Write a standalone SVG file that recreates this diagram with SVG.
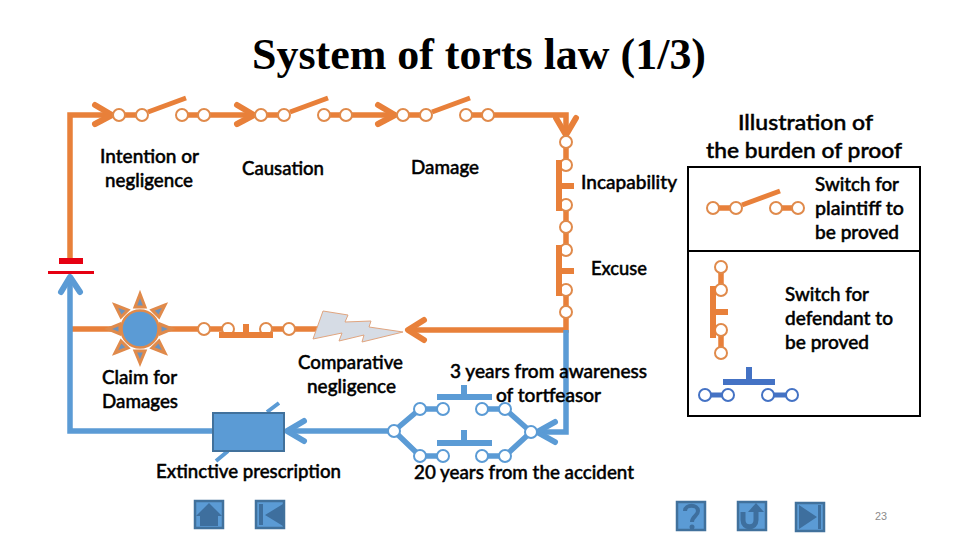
<svg xmlns="http://www.w3.org/2000/svg" width="960" height="540" viewBox="0 0 960 540">
<style>
text{font-family:Lato,"Liberation Sans",Arial,sans-serif;font-size:18.5px;font-weight:500;fill:#000;stroke:#000;stroke-width:.45}
.title{font-family:"Liberation Serif","Times New Roman",serif;font-size:44px;font-weight:bold;stroke:none}
.o{stroke:#E8803A;stroke-width:5.5;fill:none}
.b{stroke:#5B9BD5;stroke-width:5.5;fill:none}
.d{stroke:#4472C4;stroke-width:5;fill:none}
.ah{stroke-width:6;stroke-linecap:round;stroke-linejoin:round}
.oc{fill:#fff;stroke:#E08A4B;stroke-width:2}
.bc{fill:#fff;stroke:#5B9BD5;stroke-width:2}
.dc{fill:#fff;stroke:#4472C4;stroke-width:2}
.of{fill:#E8803A}
.bf{fill:#5B9BD5}
.df{fill:#4472C4}
.ray{fill:#6C93BE;stroke:#E08A4B;stroke-width:3;stroke-linejoin:miter}
.btn{fill:#5B9BD5;stroke:#41719C;stroke-width:2.5}
.ic{fill:#3E6F9E}
</style>
<defs>
<circle id="oc" r="6" class="oc"/>
<circle id="bc" r="6" class="bc"/>
<circle id="dc" r="6" class="dc"/>
<g id="sw">
<path class="o" d="M0 0H23M63 0H85"/>
<path class="o" d="M29-3L67-17" style="stroke-width:5"/>
<use href="#oc"/><use href="#oc" x="23"/><use href="#oc" x="63"/><use href="#oc" x="85"/>
</g>
</defs>
<text class="title" x="252" y="69" textLength="454" lengthAdjust="spacingAndGlyphs">System of torts law (1/3)</text>
<g id="connectors">
<path class="o" d="M70 258V115H112M204 115H254M346 115H395M488 115H566V135"/>
<path class="o ah" d="M95 105L112 115L95 124M237 105L254 115L237 124M378 105L395 115L378 124M556 118L566 135L576 118"/>
<path class="o" d="M566 135V165M566 205V250M566 290V330H410"/>
<path class="o ah" d="M424 320L408 330L424 340"/>
<path class="o" d="M72 329H228M266 329H320"/>
<path class="b" d="M566 330V432H536"/>
<path class="b ah" d="M555 422L537 432L555 442"/>
<path class="b" d="M70 278V431H214"/>
<path class="b ah" d="M61 292L70 277L80 292"/>
<path class="b" d="M394 431H287"/>
<path class="b ah" d="M304 421L287 431L304 441"/>
<path class="b" d="M394 431L420 409H443M482 409H505L531 432L505 456H482M443 456H420L394 431"/>
</g>
<g id="battery"><rect x="59" y="258" width="24" height="6" fill="#E60012"/><rect x="48" y="271" width="46" height="3" fill="#E60012"/></g>
<g id="switch-intention"><use href="#sw" x="119" y="115"/></g>
<g id="switch-causation"><use href="#sw" x="261" y="115"/></g>
<g id="switch-damage"><use href="#sw" x="403" y="115"/></g>
<g id="switch-incapability">
<use href="#oc" x="566" y="142"/><use href="#oc" x="566" y="165"/><use href="#oc" x="566" y="205"/><use href="#oc" x="566" y="227"/>
<path class="of" d="M556 160h6v51h-6zM562 183h12v6h-12z"/></g>
<g id="switch-excuse">
<use href="#oc" x="566" y="250"/><use href="#oc" x="566" y="290"/><use href="#oc" x="566" y="312"/>
<path class="of" d="M556 245h6v51h-6zM562 268h12v6h-12z"/></g>
<g id="switch-comparative">
<use href="#oc" x="204" y="329"/><use href="#oc" x="228" y="329"/><use href="#oc" x="266" y="329"/><use href="#oc" x="289" y="329"/>
<path class="of" d="M219 332h54v6h-54zM243 324h6v8h-6z"/></g>
<g id="lightning"><polygon points="323,311 348,315 345,322 371,321 369,327 403,332 362,342 364,335 339,341 342,333 313,339" fill="#D6DCE5" stroke="#E0A580" stroke-width="1"/></g>
<g id="sun">
<circle cx="140" cy="329" r="18.5" fill="#5B9BD5" stroke="#E08A4B" stroke-width="2.5"/>
<g class="ray">
<polygon points="140,294 135,307 145,307"/>
<polygon points="140,363 135,351 145,351"/>
<polygon points="108,329 120,324 120,334"/>
<polygon points="172,329 160,324 160,334"/>
<polygon points="165,305 152,310 159,317"/>
<polygon points="115,305 128,310 121,317"/>
<polygon points="165,353 152,348 159,341"/>
<polygon points="115,353 128,348 121,341"/>
</g></g>
<g id="prescription">
<path class="b" d="M216 461L228 451M267 412L279 403" style="stroke-width:4"/>
<rect x="213" y="413" width="71" height="38" fill="#5B9BD5" stroke="#41719C" stroke-width="2"/></g>
<g id="switch-3years">
<use href="#bc" x="394" y="431"/><use href="#bc" x="420" y="409"/><use href="#bc" x="443" y="409"/><use href="#bc" x="482" y="409"/><use href="#bc" x="505" y="409"/><use href="#bc" x="531" y="432"/>
<path class="bf" d="M437 394h55v6h-55zM461 385h6v9h-6z"/></g>
<g id="switch-20years">
<use href="#bc" x="420" y="456"/><use href="#bc" x="443" y="456"/><use href="#bc" x="482" y="456"/><use href="#bc" x="505" y="456"/>
<path class="bf" d="M437 440h55v6h-55zM461 430h6v10h-6z"/></g>
<g id="legend">
<rect x="688" y="167" width="232" height="249" fill="none" stroke="#000" stroke-width="2"/>
<path d="M688 251H920" stroke="#000" stroke-width="2"/>
<use href="#sw" x="713" y="208"/>
<path class="o" d="M721 267V290M721 330V353"/>
<use href="#oc" x="721" y="267"/><use href="#oc" x="721" y="290"/><use href="#oc" x="721" y="330"/><use href="#oc" x="721" y="353"/>
<path class="of" d="M710 286h6v52h-6zM716 309h12v6h-12z"/>
<path class="df" d="M723 379h52v6h-52zM746 367h6v12h-6z"/>
<path class="d" d="M705 395H728M768 395H792"/>
<use href="#dc" x="705" y="395"/><use href="#dc" x="728" y="395"/><use href="#dc" x="768" y="395"/><use href="#dc" x="792" y="395"/>
</g>
<g id="labels">
<text x="100" y="163" textLength="99" lengthAdjust="spacingAndGlyphs">Intention or</text>
<text x="105" y="187" textLength="88" lengthAdjust="spacingAndGlyphs">negligence</text>
<text x="242" y="175" textLength="82" lengthAdjust="spacingAndGlyphs">Causation</text>
<text x="411" y="174" textLength="68" lengthAdjust="spacingAndGlyphs">Damage</text>
<text x="581" y="189" textLength="96" lengthAdjust="spacingAndGlyphs">Incapability</text>
<text x="591" y="275" textLength="56" lengthAdjust="spacingAndGlyphs">Excuse</text>
<text x="102" y="384" textLength="75" lengthAdjust="spacingAndGlyphs">Claim for</text>
<text x="102" y="408" textLength="76" lengthAdjust="spacingAndGlyphs">Damages</text>
<text x="298" y="369" textLength="105" lengthAdjust="spacingAndGlyphs">Comparative</text>
<text x="307" y="393" textLength="89" lengthAdjust="spacingAndGlyphs">negligence</text>
<text x="450" y="378" textLength="197" lengthAdjust="spacingAndGlyphs">3 years from awareness</text>
<text x="496" y="402" textLength="105" lengthAdjust="spacingAndGlyphs">of tortfeasor</text>
<text x="156" y="478" textLength="185" lengthAdjust="spacingAndGlyphs">Extinctive prescription</text>
<text x="414" y="479" textLength="220" lengthAdjust="spacingAndGlyphs">20 years from the accident</text>
<text x="738" y="130" textLength="135" lengthAdjust="spacingAndGlyphs" style="font-size:21px">Illustration of</text>
<text x="706" y="158" textLength="196" lengthAdjust="spacingAndGlyphs" style="font-size:21px">the burden of proof</text>
<text x="815" y="191" textLength="84" lengthAdjust="spacingAndGlyphs">Switch for</text>
<text x="815" y="215" textLength="89" lengthAdjust="spacingAndGlyphs">plaintiff to</text>
<text x="815" y="239" textLength="84" lengthAdjust="spacingAndGlyphs">be proved</text>
<text x="785" y="301" textLength="84" lengthAdjust="spacingAndGlyphs">Switch for</text>
<text x="785" y="325" textLength="108" lengthAdjust="spacingAndGlyphs">defendant to</text>
<text x="785" y="349" textLength="84" lengthAdjust="spacingAndGlyphs">be proved</text>
<text x="875" y="520" textLength="12" lengthAdjust="spacingAndGlyphs" style="font-family:'Liberation Sans',sans-serif;font-size:11px;fill:#8b8b8b;stroke:none">23</text>
</g>
<g id="btn-home"><rect class="btn" x="195" y="501" width="28" height="27"/><path class="ic" d="M209 503L222 516H218V526H200V516H196Z"/></g>
<g id="btn-back"><rect class="btn" x="256" y="501" width="28" height="27"/><path class="ic" d="M259 504h4v21h-4zM265 515L283 504V526Z"/></g>
<g id="btn-help"><rect class="btn" x="677" y="502" width="28" height="28"/><path d="M685 511c0-7 13-7 13 0c0 5-6 5-6 11" fill="none" stroke="#3E6F9E" stroke-width="4"/><circle cx="692" cy="527" r="2.5" class="ic"/></g>
<g id="btn-return"><rect class="btn" x="738" y="502" width="28" height="28"/><path d="M743 512V520C743 529 756 529 756 520V510" fill="none" stroke="#3E6F9E" stroke-width="5"/><path class="ic" d="M756 503L764 512H748Z"/></g>
<g id="btn-end"><rect class="btn" x="796" y="503" width="28" height="28"/><path class="ic" d="M799 505L817 517L799 529ZM818 505h3v24h-3z"/></g>
</svg>
